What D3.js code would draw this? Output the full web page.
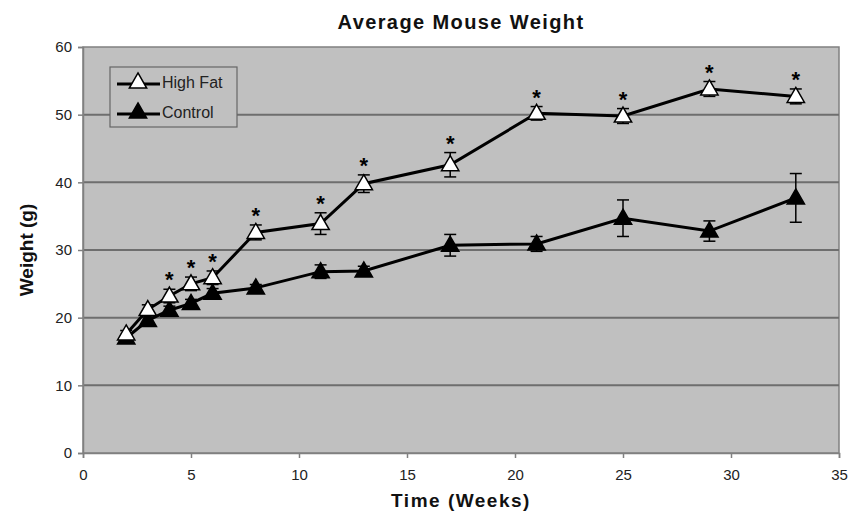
<!DOCTYPE html>
<html><head><meta charset="utf-8">
<script src="https://cdn.jsdelivr.net/npm/d3@7"></script>
<style>body{margin:0;background:#fff}svg{display:block;font-family:"Liberation Sans",Arial,sans-serif}</style>
</head><body><svg id="c" width="850" height="517"></svg>
<script>
const weeks      = [2, 3, 4, 5, 6, 8, 11, 13, 17, 21, 25, 29, 33];
const highFat    = [17.6, 21.2, 23.2, 25.0, 25.9, 32.6, 33.9, 39.8, 42.6, 50.2, 49.8, 53.8, 52.7];
const highFatErr = [0.5, 0.7, 1.0, 1.0, 1.0, 1.1, 1.6, 1.3, 1.8, 1.0, 1.1, 1.1, 1.1];
const control    = [17.0, 19.6, 21.1, 22.1, 23.6, 24.4, 26.8, 26.9, 30.7, 30.9, 34.7, 32.8, 37.7];
const controlErr = [0.5, 0.5, 0.6, 0.6, 0.7, 0.5, 1.0, 0.7, 1.6, 1.1, 2.7, 1.5, 3.6];
const significant = [false, false, true, true, true, true, true, true, true, true, true, true, true];
const xTicks = [0, 5, 10, 15, 20, 25, 30, 35];
const yTicks = [0, 10, 20, 30, 40, 50, 60];
const seriesNames = ["High Fat", "Control"];

const svg = d3.select("#c");
const m = {l: 83, r: 11, t: 47, b: 64};
const W = 850, H = 517;
const x = d3.scaleLinear().domain([0, 35]).range([m.l, W - m.r]);
const y = d3.scaleLinear().domain([0, 60]).range([H - m.b, m.t]);

svg.append("rect").attr("x", x(0)).attr("y", y(60)).attr("width", x(35) - x(0)).attr("height", y(0) - y(60))
  .attr("fill", "#c0c0c0").attr("stroke", "#808080").attr("stroke-width", 1.5);

svg.append("g").selectAll("line").data(yTicks.filter(d => d > 0 && d < 60)).join("line")
  .attr("x1", x(0)).attr("x2", x(35)).attr("y1", d => y(d)).attr("y2", d => y(d))
  .attr("stroke", "#6e6e6e").attr("stroke-width", 2);

const ya = svg.append("g").attr("transform", `translate(${x(0)},0)`)
  .call(d3.axisLeft(y).tickValues(yTicks).tickSize(5).tickPadding(6));
const xa = svg.append("g").attr("transform", `translate(0,${y(0)})`)
  .call(d3.axisBottom(x).tickValues(xTicks).tickSize(5).tickPadding(11));
[ya, xa].forEach(a => {
  a.select(".domain").attr("stroke", "#808080").attr("stroke-width", 1.5);
  a.selectAll(".tick line").attr("stroke", "#808080").attr("stroke-width", 1.5);
  a.selectAll("text").attr("font-size", 15).attr("fill", "#222").attr("font-family", "Liberation Sans, Arial, sans-serif");
});

const tri = d3.symbol().type(d3.symbolTriangle).size(130);
const series = [
  {name: seriesNames[1], vals: control, err: controlErr, fill: "#000"},
  {name: seriesNames[0], vals: highFat, err: highFatErr, fill: "#fff"}
];
const line = d3.line().x((d, i) => x(weeks[i])).y(d => y(d));

series.forEach(s => {
  const g = svg.append("g");
  g.append("path").datum(s.vals).attr("d", line).attr("fill", "none").attr("stroke", "#000").attr("stroke-width", 3);
  const eb = g.selectAll("g.eb").data(s.vals).join("g");
  eb.append("line").attr("x1", (d, i) => x(weeks[i])).attr("x2", (d, i) => x(weeks[i]))
    .attr("y1", (d, i) => y(d - s.err[i])).attr("y2", (d, i) => y(d + s.err[i]))
    .attr("stroke", "#000").attr("stroke-width", 1.5);
  [1, -1].forEach(sg => {
    eb.append("line").attr("x1", (d, i) => x(weeks[i]) - 6).attr("x2", (d, i) => x(weeks[i]) + 6)
      .attr("y1", (d, i) => y(d + sg * s.err[i])).attr("y2", (d, i) => y(d + sg * s.err[i]))
      .attr("stroke", "#000").attr("stroke-width", 1.5);
  });
  g.selectAll("path.m").data(s.vals).join("path").attr("class", "m").attr("d", tri)
    .attr("transform", (d, i) => `translate(${x(weeks[i])},${y(d) + 1})`)
    .attr("fill", s.fill).attr("stroke", "#000").attr("stroke-width", 1.5);
});

svg.append("g").selectAll("text").data(highFat.map((v, i) => ({v, i})).filter(d => significant[d.i])).join("text")
  .attr("x", d => x(weeks[d.i])).attr("y", d => y(d.v + highFatErr[d.i]) - 2)
  .attr("text-anchor", "middle").attr("font-size", 22).attr("font-weight", "bold").text("*");

// legend
const lg = svg.append("g");
lg.append("rect").attr("x", 110).attr("y", 67).attr("width", 127).attr("height", 60)
  .attr("fill", "#c0c0c0").attr("stroke", "#666").attr("stroke-width", 1.2);
[{n: seriesNames[0], f: "#fff"}, {n: seriesNames[1], f: "#000"}].forEach((d, i) => {
  const cy = 82 + i * 30;
  lg.append("line").attr("x1", 117).attr("x2", 160).attr("y1", cy + 2).attr("y2", cy + 2).attr("stroke", "#000").attr("stroke-width", 3);
  lg.append("path").attr("d", tri).attr("transform", `translate(138,${cy + 1})`).attr("fill", d.f).attr("stroke", "#000").attr("stroke-width", 1.5);
  lg.append("text").attr("x", 162).attr("y", cy + 6).attr("font-size", 16).attr("fill", "#222").text(d.n);
});

svg.append("text").attr("x", (x(0) + x(35)) / 2).attr("y", 29).attr("text-anchor", "middle")
  .attr("font-size", 20).attr("letter-spacing", 1.4).attr("font-weight", "bold").attr("fill", "#111").text("Average Mouse Weight");
svg.append("text").attr("x", (x(0) + x(35)) / 2).attr("y", 507).attr("text-anchor", "middle")
  .attr("font-size", 19).attr("letter-spacing", 1.5).attr("font-weight", "bold").attr("fill", "#111").text("Time (Weeks)");
svg.append("text").attr("transform", `translate(33,${(y(0) + y(60)) / 2}) rotate(-90)`).attr("text-anchor", "middle")
  .attr("font-size", 19).attr("font-weight", "bold").attr("fill", "#111").text("Weight (g)");
</script></body></html>
